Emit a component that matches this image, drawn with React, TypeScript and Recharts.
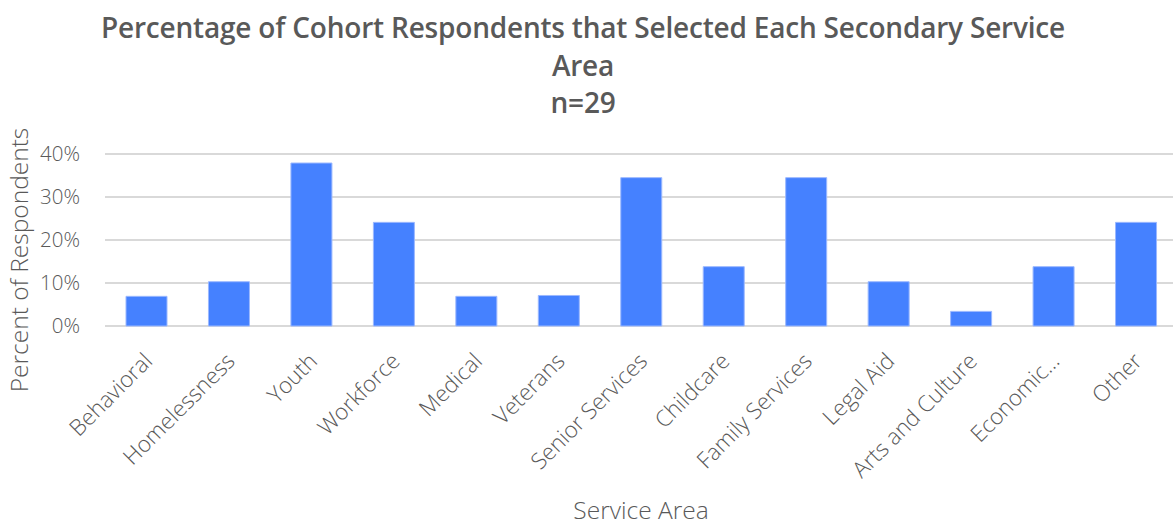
import React from "react";
import { BarChart, Bar, XAxis, YAxis, CartesianGrid } from "recharts";

const categories = [
  "Behavioral",
  "Homelessness",
  "Youth",
  "Workforce",
  "Medical",
  "Veterans",
  "Senior Services",
  "Childcare",
  "Family Services",
  "Legal Aid",
  "Arts and Culture",
  "Economic...",
  "Other",
];
const percentValues = [6.9, 10.3, 37.9, 24.1, 6.9, 7.1, 34.5, 13.8, 34.5, 10.3, 3.4, 13.8, 24.1];
const yTicks = [0, 10, 20, 30, 40];
const titleLines = [
  "Percentage of Cohort Respondents that Selected Each Secondary Service",
  "Area",
  "n=29",
];

const data = categories.map((name, i) => ({ name, value: percentValues[i] }));

const FONT = "'Open Sans', 'Noto Sans', sans-serif";
const GREY = "#595959";

const XTick = (props: any) => {
  const { x, y, payload } = props;
  return (
    <g transform={`translate(${x + 2},${y + 23})`}>
      <text
        x={0}
        y={0}
        dy="0.35em"
        textAnchor="end"
        transform="rotate(-45)"
        fill={GREY}
        fontSize={22.5}
        fontWeight={300}
        fontFamily={FONT}
      >
        {payload.value}
      </text>
    </g>
  );
};

const YTitle = () => (
  <text
    x={28}
    y={260}
    transform="rotate(-90, 28, 260)"
    textAnchor="middle"
    fill={GREY}
    fontSize={24.5}
    fontWeight={300}
    fontFamily={FONT}
  >
    Percent of Respondents
  </text>
);

const XTitle = () => (
  <text
    x={641}
    y={519}
    textAnchor="middle"
    fill={GREY}
    fontSize={24.5}
    fontWeight={300}
    fontFamily={FONT}
  >
    Service Area
  </text>
);

export default function App() {
  return (
    <div
      style={{
        position: "absolute",
        left: 0,
        top: 0,
        width: 1173,
        height: 525,
        overflow: "hidden",
        background: "#fff",
        fontFamily: FONT,
      }}
    >
      <div
        style={{
          position: "absolute",
          left: 0,
          top: 9,
          width: 1166,
          textAlign: "center",
          color: GREY,
          fontWeight: 600,
          fontSize: 28,
          letterSpacing: -0.2,
          lineHeight: "37.5px",
        }}
      >
        {titleLines.map((t, i) => (
          <div key={i}>{t}</div>
        ))}
      </div>
      <BarChart
        width={1177}
        height={525}
        data={data}
        margin={{ top: 154, right: 0, bottom: 0, left: 0 }}
        barSize={41}
      >
        <CartesianGrid vertical={false} stroke="#D9D9D9" strokeWidth={2} />
        <XAxis
          dataKey="name"
          interval={0}
          height={199}
          axisLine={false}
          tickLine={false}
          tick={<XTick />}
          label={<XTitle />}
        />
        <YAxis
          width={105}
          domain={[0, 40]}
          ticks={yTicks}
          tickFormatter={(v: number) => `${v}%`}
          axisLine={false}
          tickLine={false}
          tickMargin={19}
          tick={{ fill: GREY, fontSize: 20.5, fontWeight: 300, fontFamily: FONT }}
          label={<YTitle />}
        />
        <Bar
          dataKey="value"
          fill="#4581FF"
          stroke="#9BB8FF"
          strokeWidth={1}
          isAnimationActive={false}
        />
      </BarChart>
    </div>
  );
}
